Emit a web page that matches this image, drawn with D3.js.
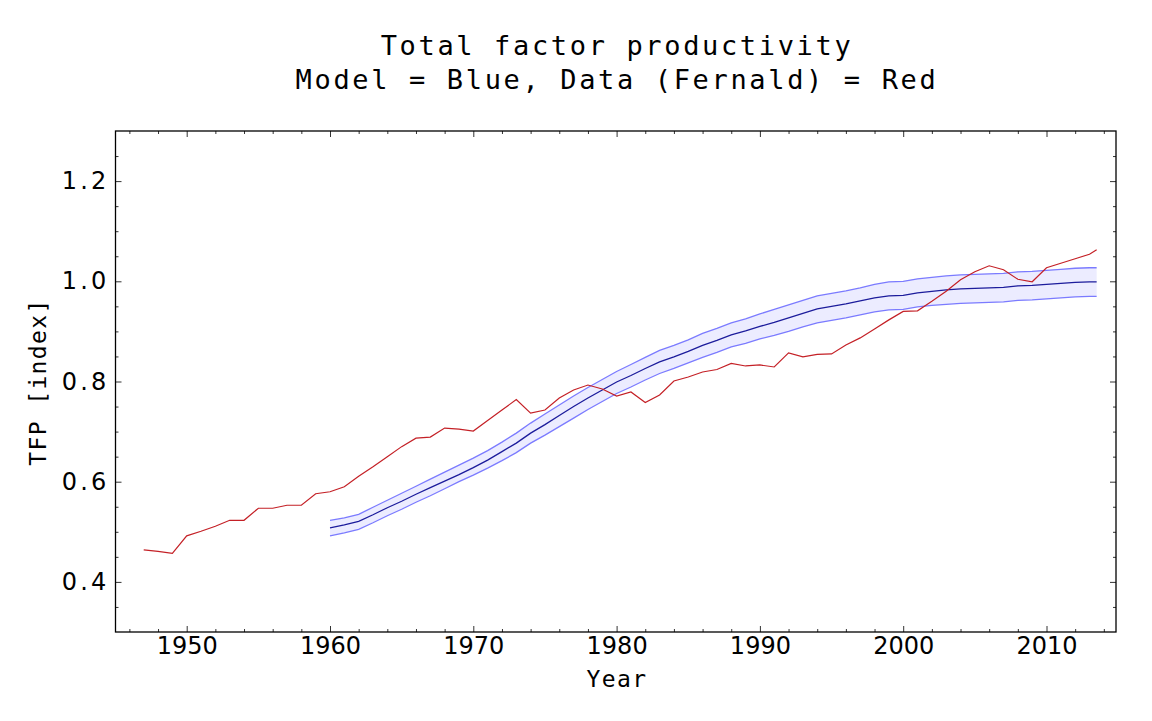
<!DOCTYPE html>
<html>
<head>
<meta charset="utf-8">
<script src="https://cdn.jsdelivr.net/npm/d3@7"></script>
<style>
  body { margin: 0; background: #fff; }
  svg { display: block; }
</style>
</head>
<body>
<div id="chart-area"></div>
<script>
// Data (Fernald) - red line
const dataYears = [1947, 1948, 1949, 1950, 1951, 1952, 1953, 1954, 1955, 1956,
  1957, 1958, 1959, 1960, 1961, 1962, 1963, 1964, 1965, 1966,
  1967, 1968, 1969, 1970, 1971, 1972, 1973, 1974, 1975, 1976,
  1977, 1978, 1979, 1980, 1981, 1982, 1983, 1984, 1985, 1986,
  1987, 1988, 1989, 1990, 1991, 1992, 1993, 1994, 1995, 1996,
  1997, 1998, 1999, 2000, 2001, 2002, 2003, 2004, 2005, 2006,
  2007, 2008, 2009, 2010, 2011, 2012, 2013, 2013.5]
const dataTfp = [0.464, 0.461, 0.457, 0.492, 0.501, 0.511, 0.523, 0.523, 0.547, 0.547,
  0.553, 0.553, 0.576, 0.580, 0.590, 0.611, 0.630, 0.650, 0.670, 0.687,
  0.689, 0.707, 0.705, 0.701, 0.722, 0.743, 0.764, 0.737, 0.743, 0.767,
  0.783, 0.793, 0.785, 0.771, 0.779, 0.758, 0.773, 0.801, 0.809, 0.819,
  0.824, 0.836, 0.831, 0.833, 0.829, 0.857, 0.849, 0.854, 0.855, 0.873,
  0.887, 0.905, 0.923, 0.940, 0.941, 0.960, 0.980, 1.003, 1.019, 1.031,
  1.023, 1.004, 0.999, 1.027, 1.036, 1.045, 1.054, 1.063]

// Model - blue line with band
const modelYears = [1960, 1961, 1962, 1963, 1964, 1965, 1966, 1967, 1968, 1969,
  1970, 1971, 1972, 1973, 1974, 1975, 1976, 1977, 1978, 1979,
  1980, 1981, 1982, 1983, 1984, 1985, 1986, 1987, 1988, 1989,
  1990, 1991, 1992, 1993, 1994, 1995, 1996, 1997, 1998, 1999,
  2000, 2001, 2002, 2003, 2004, 2005, 2006, 2007, 2008, 2009,
  2010, 2011, 2012, 2013, 2013.5]
const modelMid = [0.508, 0.514, 0.521, 0.534, 0.548, 0.561, 0.575, 0.588, 0.601, 0.614,
  0.628, 0.643, 0.660, 0.677, 0.697, 0.714, 0.732, 0.750, 0.767, 0.783,
  0.799, 0.812, 0.826, 0.839, 0.849, 0.860, 0.872, 0.882, 0.893, 0.901,
  0.910, 0.918, 0.927, 0.936, 0.945, 0.950, 0.955, 0.961, 0.967, 0.971,
  0.972, 0.977, 0.980, 0.983, 0.985, 0.986, 0.987, 0.988, 0.991, 0.992,
  0.994, 0.996, 0.998, 0.999, 0.999]
const modelHigh = [0.523, 0.528, 0.535, 0.549, 0.563, 0.577, 0.591, 0.605, 0.619, 0.633,
  0.647, 0.662, 0.679, 0.697, 0.717, 0.735, 0.753, 0.771, 0.788, 0.804,
  0.820, 0.834, 0.848, 0.862, 0.872, 0.883, 0.896, 0.906, 0.917, 0.925,
  0.935, 0.944, 0.953, 0.962, 0.971, 0.976, 0.981, 0.987, 0.994, 0.999,
  1.000, 1.005, 1.008, 1.011, 1.013, 1.014, 1.015, 1.016, 1.019, 1.020,
  1.022, 1.024, 1.026, 1.027, 1.027]
const modelLow = [0.492, 0.498, 0.505, 0.518, 0.532, 0.545, 0.559, 0.572, 0.586, 0.600,
  0.613, 0.627, 0.642, 0.658, 0.677, 0.693, 0.710, 0.727, 0.744, 0.760,
  0.776, 0.789, 0.803, 0.816, 0.826, 0.837, 0.848, 0.858, 0.869, 0.876,
  0.885, 0.892, 0.900, 0.909, 0.917, 0.922, 0.927, 0.933, 0.939, 0.943,
  0.944, 0.949, 0.952, 0.954, 0.956, 0.957, 0.958, 0.959, 0.962, 0.963,
  0.965, 0.967, 0.969, 0.970, 0.970]

const xTicks = [1950, 1960, 1970, 1980, 1990, 2000, 2010]
const xMinorTicks = [1946, 1948, 1952, 1954, 1956, 1958, 1962, 1964, 1966, 1968,
  1972, 1974, 1976, 1978, 1982, 1984, 1986, 1988, 1992, 1994, 1996, 1998,
  2002, 2004, 2006, 2008, 2012, 2014]
const yTicks = [0.4, 0.6, 0.8, 1.0, 1.2]
const yMinorTicks = [0.35, 0.45, 0.5, 0.55, 0.65, 0.7, 0.75, 0.85, 0.9, 0.95,
  1.05, 1.1, 1.15, 1.25]

const W = 1152, H = 721
const FRAME = { LEFT: 115.5, RIGHT: 1116, TOP: 131, BOTTOM: 632 }

const svg = d3.select("#chart-area").append("svg")
  .attr("width", W)
  .attr("height", H)

// Scales
const x = d3.scaleLinear()
  .domain([1950, 2010])
  .range([186.7, 1046.5])
const y = d3.scaleLinear()
  .domain([0.3, 1.3])
  .range([FRAME.BOTTOM, FRAME.TOP])

const mono = "'DejaVu Sans Mono', monospace"
const sans = "'DejaVu Sans', sans-serif"

// Title
svg.append("text")
  .attr("x", 617)
  .attr("y", 55)
  .attr("text-anchor", "middle")
  .attr("font-family", mono)
  .attr("font-size", "27px")
  .attr("letter-spacing", "2.65px")
  .text("Total factor productivity")
svg.append("text")
  .attr("x", 617)
  .attr("y", 89)
  .attr("text-anchor", "middle")
  .attr("font-family", mono)
  .attr("font-size", "27px")
  .attr("letter-spacing", "2.65px")
  .text("Model = Blue, Data (Fernald) = Red")

// Band + lines
const model = modelYears.map((yr, i) => ({ year: yr, mid: modelMid[i], hi: modelHigh[i], lo: modelLow[i] }))
const data = dataYears.map((yr, i) => ({ year: yr, v: dataTfp[i] }))

const plot = svg.append("g")

plot.append("path")
  .datum(model)
  .attr("fill", "#ececff")
  .attr("d", d3.area().x(d => x(d.year)).y0(d => y(d.lo)).y1(d => y(d.hi)))

const line = key => d3.line().x(d => x(d.year)).y(d => y(d[key]))

plot.append("path")
  .datum(model)
  .attr("fill", "none")
  .attr("stroke", "#7b7bff")
  .attr("stroke-width", 1.3)
  .attr("d", line("hi"))
plot.append("path")
  .datum(model)
  .attr("fill", "none")
  .attr("stroke", "#7b7bff")
  .attr("stroke-width", 1.3)
  .attr("d", line("lo"))
plot.append("path")
  .datum(model)
  .attr("fill", "none")
  .attr("stroke", "#1c1c9c")
  .attr("stroke-width", 1.3)
  .attr("d", line("mid"))

plot.append("path")
  .datum(data)
  .attr("fill", "none")
  .attr("stroke", "#c42026")
  .attr("stroke-width", 1.2)
  .attr("d", line("v"))

// Axes: ticks point inward on all four sides
function styleAxis(sel) {
  sel.select(".domain").remove()
  sel.selectAll(".tick line").attr("stroke", "#333")
}

svg.append("g")
  .attr("transform", `translate(0,${FRAME.BOTTOM})`)
  .call(d3.axisBottom(x).tickValues(xTicks).tickSize(-6).tickPadding(5).tickFormat(d3.format("d")))
  .call(styleAxis)
  .call(g => g.selectAll("text")
    .attr("font-family", sans)
    .attr("font-size", "24px")
    .attr("fill", "#000"))
svg.append("g")
  .attr("transform", `translate(0,${FRAME.BOTTOM})`)
  .call(d3.axisBottom(x).tickValues(xMinorTicks).tickSize(-3).tickFormat(""))
  .call(styleAxis)
svg.append("g")
  .attr("transform", `translate(0,${FRAME.TOP})`)
  .call(d3.axisTop(x).tickValues(xTicks).tickSize(-6).tickFormat(""))
  .call(styleAxis)
svg.append("g")
  .attr("transform", `translate(0,${FRAME.TOP})`)
  .call(d3.axisTop(x).tickValues(xMinorTicks).tickSize(-3).tickFormat(""))
  .call(styleAxis)

svg.append("g")
  .attr("transform", `translate(${FRAME.LEFT},0)`)
  .call(d3.axisLeft(y).tickValues(yTicks).tickSize(-6).tickPadding(6).tickFormat(d3.format(".1f")))
  .call(styleAxis)
  .call(g => g.selectAll("text")
    .attr("font-family", sans)
    .attr("font-size", "24px")
    .attr("letter-spacing", "3.2px")
    .attr("fill", "#000"))
svg.append("g")
  .attr("transform", `translate(${FRAME.LEFT},0)`)
  .call(d3.axisLeft(y).tickValues(yMinorTicks).tickSize(-3).tickFormat(""))
  .call(styleAxis)
svg.append("g")
  .attr("transform", `translate(${FRAME.RIGHT},0)`)
  .call(d3.axisRight(y).tickValues(yTicks).tickSize(-6).tickFormat(""))
  .call(styleAxis)
svg.append("g")
  .attr("transform", `translate(${FRAME.RIGHT},0)`)
  .call(d3.axisRight(y).tickValues(yMinorTicks).tickSize(-3).tickFormat(""))
  .call(styleAxis)

// Frame
svg.append("rect")
  .attr("x", FRAME.LEFT)
  .attr("y", FRAME.TOP)
  .attr("width", FRAME.RIGHT - FRAME.LEFT)
  .attr("height", FRAME.BOTTOM - FRAME.TOP)
  .attr("fill", "none")
  .attr("stroke", "#000")
  .attr("stroke-width", 1.3)

// Axis labels
svg.append("text")
  .attr("x", 617)
  .attr("y", 687)
  .attr("text-anchor", "middle")
  .attr("font-family", mono)
  .attr("font-size", "23px")
  .attr("letter-spacing", "1.4px")
  .text("Year")

svg.append("text")
  .attr("transform", "rotate(-90)")
  .attr("x", -382)
  .attr("y", 46)
  .attr("text-anchor", "middle")
  .attr("font-family", mono)
  .attr("font-size", "23px")
  .attr("letter-spacing", "1.4px")
  .text("TFP [index]")
</script>
</body>
</html>
